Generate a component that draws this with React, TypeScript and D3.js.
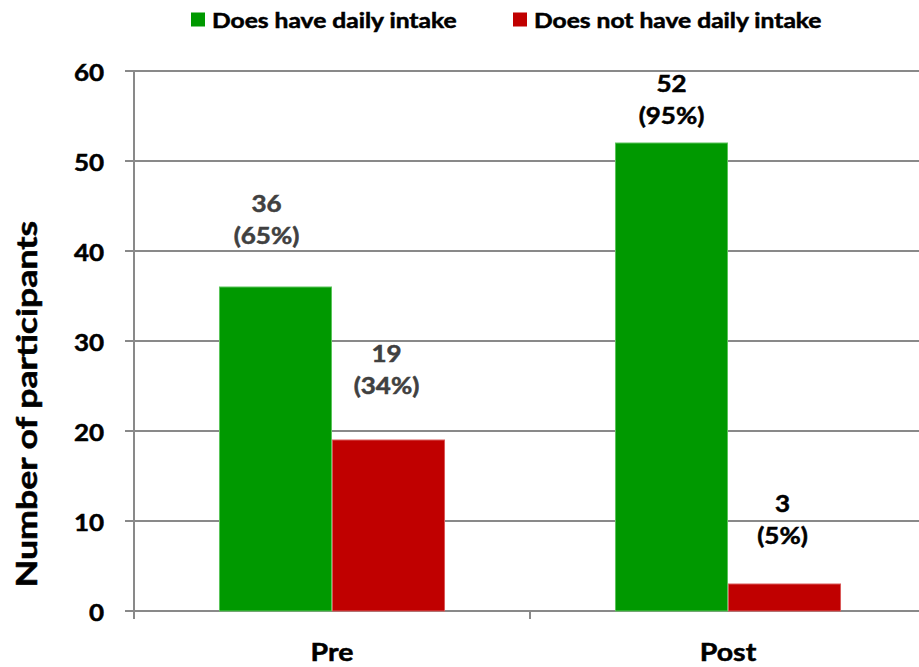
import React from "react";
import * as d3 from "d3";

// Number of participants with / without daily intake, before and after
const phases = ["Pre", "Post"];
const seriesNames = ["Does have daily intake", "Does not have daily intake"];
const haveIntake = [36, 52];
const notHaveIntake = [19, 3];
const haveIntakePct = [65, 95];
const notHaveIntakePct = [34, 5];
const yTicks = [0, 10, 20, 30, 40, 50, 60];

// layout
const W = 919;
const H = 667;
const AXIS_X = 134;
const Y0 = 611;
const Y60 = 71;
const CAT_STEP = 396;
const COLORS = ["#009900", "#C00000"];
const EDGE = ["#5cc45c", "#d95a5a"];
const LABEL_COLORS = ["#404040", "#000000"];
const FONT = "Lato, 'Open Sans', sans-serif";
const SX = 1.18; // horizontal stretch applied to text glyphs

// per-label nudges [phase][series]: dx, lift of lower line above bar top
const labelDx = [
  [-9, -2],
  [0, -2],
];
const labelLift = [
  [52, 55],
  [28, 49],
];

type TProps = {
  x: number;
  y: number;
  size: number;
  sx?: number;
  anchor?: string;
  fill?: string;
  children: React.ReactNode;
};

function T({ x, y, size, sx = SX, anchor = "middle", fill = "#000", children }: TProps) {
  return (
    <text
      transform={`translate(${x},${y}) scale(${sx},1)`}
      textAnchor={anchor}
      dominantBaseline="central"
      fontFamily={FONT}
      fontWeight={700}
      fontSize={size}
      fill={fill}
      stroke={fill}
      strokeWidth={0.5}
    >
      {children}
    </text>
  );
}

export default function App() {
  const x0 = d3
    .scaleBand<string>()
    .domain(phases)
    .range([AXIS_X, AXIS_X + CAT_STEP * phases.length])
    .paddingInner(0)
    .paddingOuter(0);
  const x1 = d3
    .scaleBand<string>()
    .domain(seriesNames)
    .range([0, x0.bandwidth()])
    .paddingInner(0)
    .paddingOuter(0.752);
  const y = d3.scaleLinear().domain([0, 60]).range([Y0, Y60]);

  const values = [haveIntake, notHaveIntake];
  const pcts = [haveIntakePct, notHaveIntakePct];
  const grid = "#898989";

  const boundaries = d3.range(phases.length + 1).map((i) => AXIS_X + i * CAT_STEP);

  return (
    <svg
      width={W}
      height={H}
      style={{ position: "absolute", left: 0, top: 0, background: "#fff" }}
    >
      <rect x={0} y={0} width={W} height={H} fill="#fff" />

      {/* legend */}
      {seriesNames.map((name, i) => {
        const lx = [191, 513][i];
        return (
          <g key={name}>
            <rect x={lx} y={12.5} width={14} height={14} fill={COLORS[i]} />
            <T x={lx + 21} y={20} size={20} sx={1.23} anchor="start">
              {name}
            </T>
          </g>
        );
      })}

      {/* horizontal gridlines and y ticks */}
      {yTicks.map((t) => (
        <g key={t}>
          <line x1={AXIS_X - 9} x2={W} y1={y(t)} y2={y(t)} stroke={grid} strokeWidth={2} />
          <T x={104} y={y(t) + 1} size={22} anchor="end">
            {t}
          </T>
        </g>
      ))}

      {/* axes */}
      <line x1={AXIS_X} x2={AXIS_X} y1={y(60)} y2={Y0 + 8} stroke={grid} strokeWidth={2} />
      {boundaries.map((bx) => (
        <line key={bx} x1={bx} x2={bx} y1={Y0} y2={Y0 + 8} stroke={grid} strokeWidth={2} />
      ))}

      {/* bars */}
      {phases.map((p, pi) => (
        <g key={p} transform={`translate(${x0(p)},0)`}>
          {seriesNames.map((s, si) => {
            const v = values[si][pi];
            return (
              <rect
                key={s}
                x={x1(s)! + 0.5}
                y={y(v)}
                width={x1.bandwidth() - 1}
                height={Y0 - y(v)}
                fill={COLORS[si]}
                stroke={EDGE[si]}
                strokeWidth={1}
              />
            );
          })}
        </g>
      ))}

      {/* data labels */}
      {phases.map((p, pi) =>
        seriesNames.map((s, si) => {
          const v = values[si][pi];
          const cx = x0(p)! + x1(s)! + x1.bandwidth() / 2 + labelDx[pi][si];
          const low = y(v) - labelLift[pi][si];
          return (
            <g key={`${p}-${s}`}>
              <T x={cx} y={low - 32} size={22} fill={LABEL_COLORS[pi]}>
                {v}
              </T>
              <T x={cx} y={low} size={22} fill={LABEL_COLORS[pi]}>
                {`(${pcts[si][pi]}%)`}
              </T>
            </g>
          );
        })
      )}

      {/* category labels */}
      {phases.map((p) => (
        <T key={p} x={x0(p)! + x0.bandwidth() / 2} y={652} size={25} sx={1.14}>
          {p}
        </T>
      ))}

      {/* y axis title */}
      <text
        transform={`translate(26,${(Y60 + Y0) / 2 + 63}) rotate(-90) scale(1.23,1)`}
        textAnchor="middle"
        dominantBaseline="central"
        fontFamily={FONT}
        fontWeight={700}
        fontSize={29}
        fill="#000"
        stroke="#000"
        strokeWidth={0.5}
      >
        Number of participants
      </text>
    </svg>
  );
}
